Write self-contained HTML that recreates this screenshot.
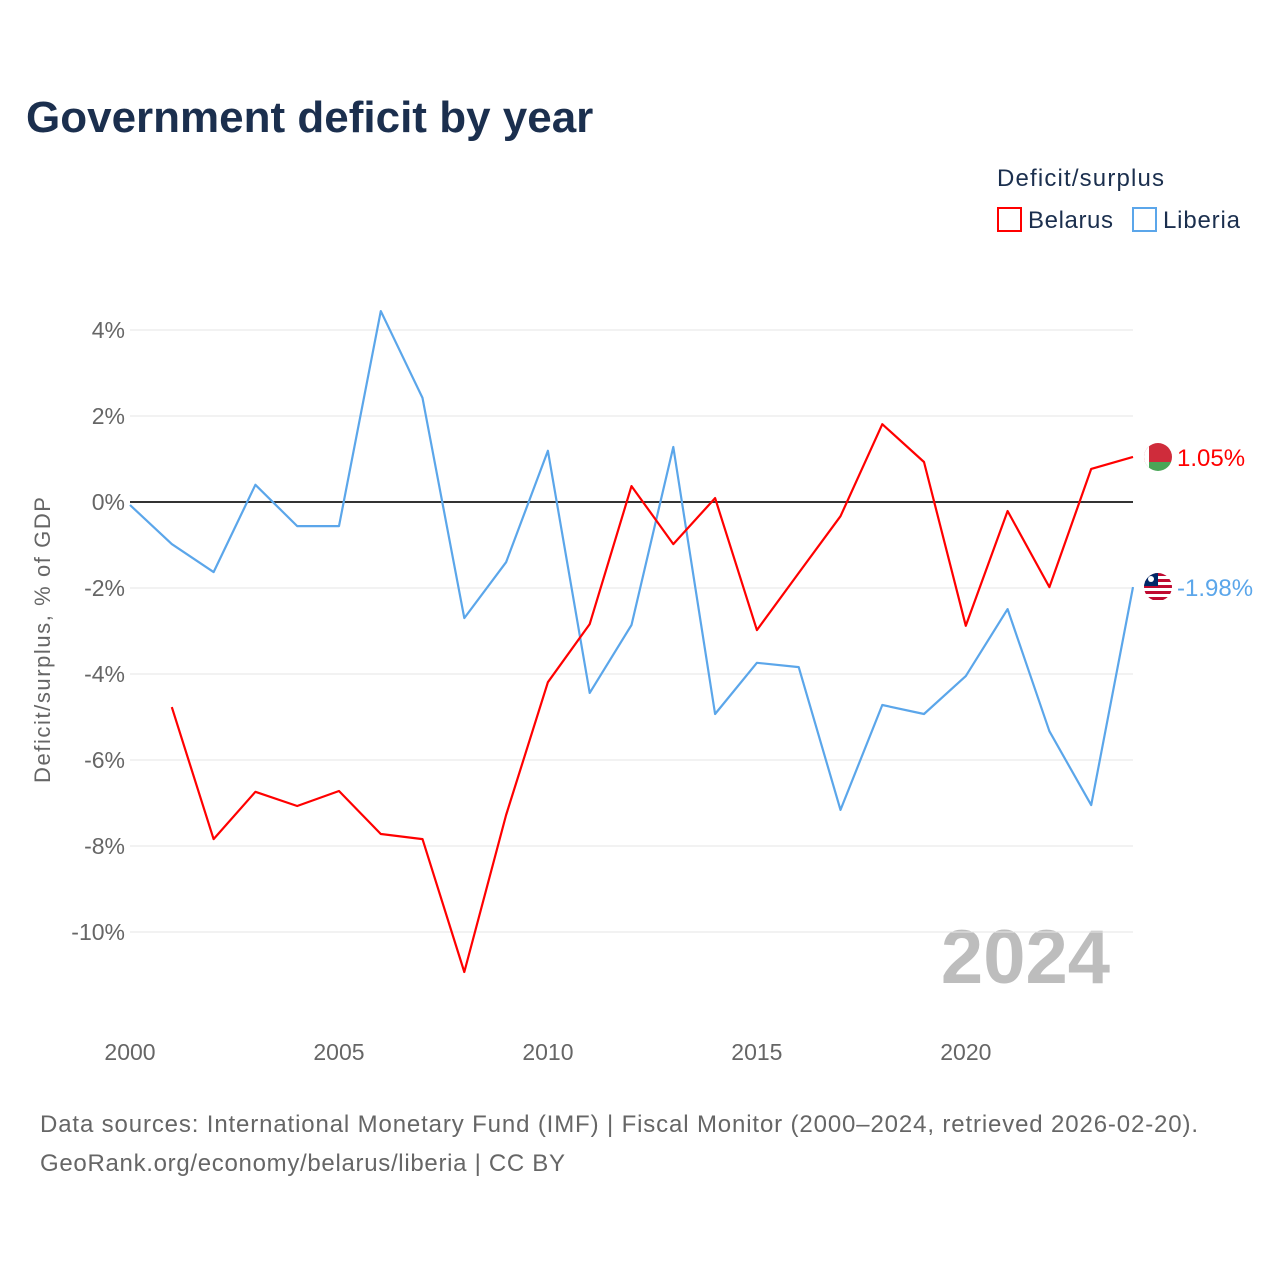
<!DOCTYPE html>
<html><head><meta charset="utf-8">
<style>
body{margin:0;background:#fff;font-family:"Liberation Sans",sans-serif;}
#wrap{position:relative;width:1280px;height:1280px;overflow:hidden;}
</style></head>
<body>
<div id="wrap">
<svg id="chart" width="1280" height="1280" font-family="Liberation Sans, sans-serif">
<defs>
<clipPath id="cb"><circle cx="1158" cy="457" r="14"/></clipPath>
<clipPath id="cl"><circle cx="1158" cy="587" r="14"/></clipPath>
</defs>
<text x="26" y="132" font-size="44" font-weight="bold" fill="#1b2f4e">Government deficit by year</text>
<text x="997" y="186" font-size="24" fill="#1b2f4e" textLength="167">Deficit/surplus</text>
<g>
<rect x="998" y="208" width="23" height="23" fill="none" stroke="#ff0000" stroke-width="2"/>
<text x="1028" y="228" font-size="24" fill="#1b2f4e" textLength="85">Belarus</text></g>
<g>
<rect x="1133" y="208" width="23" height="23" fill="none" stroke="#5ba6ea" stroke-width="2"/>
<text x="1163" y="228" font-size="24" fill="#1b2f4e" textLength="77">Liberia</text></g>
<text transform="translate(50,640) rotate(-90)" text-anchor="middle" font-size="22" fill="#666" textLength="286">Deficit/surplus, % of GDP</text>
<text x="1110" y="983" text-anchor="end" font-size="76" font-weight="bold" fill="#bdbdbd">2024</text>
<g id="grid"></g><g id="xt"></g><g id="series"></g>
<g clip-path="url(#cb)">
<rect x="1144" y="443" width="28" height="19" fill="#cf2c3b"/>
<rect x="1144" y="462" width="28" height="10" fill="#4aa657"/>
<rect x="1144" y="443" width="5" height="28" fill="#fff"/>
</g>
<g clip-path="url(#cl)">
<rect x="1144" y="573" width="28" height="28" fill="#fff"/>
<rect x="1144" y="573" width="28" height="3" fill="#bf0a30"/>
<rect x="1144" y="579" width="28" height="3" fill="#bf0a30"/>
<rect x="1144" y="585" width="28" height="3" fill="#bf0a30"/>
<rect x="1144" y="591" width="28" height="3" fill="#bf0a30"/>
<rect x="1144" y="597" width="28" height="3" fill="#bf0a30"/>
<rect x="1144" y="573" width="14" height="13" fill="#002868"/>
<circle cx="1151" cy="579" r="3" fill="#fff"/>
</g>
<text x="40" y="1132" font-size="24" fill="#666" textLength="1158">Data sources: International Monetary Fund (IMF) | Fiscal Monitor (2000–2024, retrieved 2026-02-20).</text>
<text x="40" y="1171" font-size="24" fill="#666" textLength="525">GeoRank.org/economy/belarus/liberia | CC BY</text>
</svg>
</div>
<script>
const years=[2000,2001,2002,2003,2004,2005,2006,2007,2008,2009,2010,2011,2012,2013,2014,2015,2016,2017,2018,2019,2020,2021,2022,2023,2024];
const liberia=[-0.07,-0.98,-1.63,0.40,-0.56,-0.56,4.44,2.42,-2.70,-1.40,1.19,-4.44,-2.86,1.28,-4.93,-3.74,-3.84,-7.16,-4.72,-4.93,-4.05,-2.49,-5.33,-7.05,-1.98];
const belarus=[null,-4.77,-7.84,-6.74,-7.07,-6.72,-7.72,-7.84,-10.93,-7.28,-4.19,-2.84,0.37,-0.98,0.09,-2.98,-1.65,-0.33,1.81,0.93,-2.88,-0.21,-1.98,0.77,1.05];
const yTicks=[4,2,0,-2,-4,-6,-8,-10];
const xTicks=[2000,2005,2010,2015,2020];
const NS="http://www.w3.org/2000/svg";
const X=y=>130+(y-2000)*(1133-130)/24;
const Y=v=>502-v*43;
function mk(t,a,p){const e=document.createElementNS(NS,t);for(const k in a)e.setAttribute(k,a[k]);p.appendChild(e);return e;}
const grid=document.getElementById('grid');
yTicks.forEach(v=>{
 const l=mk('line',{x1:130,x2:1133,y1:Y(v),y2:Y(v),stroke:v===0?'#333':'#e6e6e6','stroke-width':v===0?2:1},grid);
 
 
 const t=mk('text',{x:125,y:Y(v)+8,'text-anchor':'end','font-size':23,fill:'#666'},grid);
 t.textContent=v+'%';
 
 
});
const xt=document.getElementById('xt');
xTicks.forEach(y=>{
 const t=mk('text',{x:X(y),y:1060,'text-anchor':'middle','font-size':23,fill:'#666'},xt);
 t.textContent=y;
 
 
});
const S=document.getElementById('series');
function draw(vals,color,name,label){
 let d='';vals.forEach((v,i)=>{if(v===null)return;d+=(d?'L':'M')+X(years[i]).toFixed(1)+','+Y(v).toFixed(1);});
 const p=mk('path',{d:d,fill:'none',stroke:color,'stroke-width':2.2,'stroke-linejoin':'round'},S);
 
 
 const lv=vals[vals.length-1];
 const t=mk('text',{x:1177,y:Y(lv)+9,'font-size':24,fill:color},S);
 t.textContent=label;
 
 
}
draw(liberia,'#5ba6ea','liberia',liberia[liberia.length-1].toFixed(2)+'%');
draw(belarus,'#ff0000','belarus',belarus[belarus.length-1].toFixed(2)+'%');
</script>
</body></html>
